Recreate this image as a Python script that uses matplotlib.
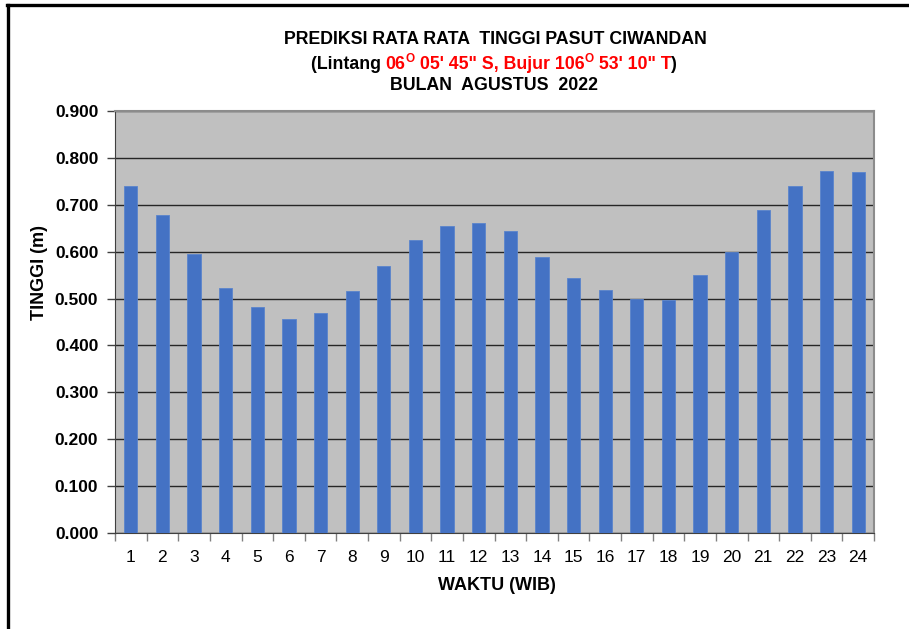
import matplotlib
matplotlib.use("Agg")
import matplotlib.pyplot as plt
from matplotlib.lines import Line2D

hours = list(range(1, 25))
tinggi = [0.740, 0.678, 0.595, 0.522, 0.482, 0.456, 0.469, 0.516, 0.569, 0.625,
          0.655, 0.661, 0.644, 0.588, 0.544, 0.518, 0.499, 0.497, 0.550, 0.599,
          0.689, 0.740, 0.772, 0.770]
yticks = [0.0, 0.1, 0.2, 0.3, 0.4, 0.5, 0.6, 0.7, 0.8, 0.9]

W, H = 909, 629
fig = plt.figure(figsize=(W / 100, H / 100), dpi=100)
fam = ["Liberation Sans", "DejaVu Sans"]

ax = fig.add_axes([115 / W, 1 - 533 / H, (874 - 115) / W, (533 - 111) / H])
ax.set_facecolor("#C0C0C0")
ax.bar(hours, tinggi, width=0.42, color="#4472C4", edgecolor="#5A84CC", linewidth=0.6, zorder=3)
ax.set_xlim(0.5, 24.5)
ax.set_ylim(0, 0.9)
ax.set_yticks(yticks)
ax.set_yticklabels([f"{v:.3f}" for v in yticks], fontfamily=fam, fontweight="bold", fontsize=12.5)
ax.grid(axis="y", color="#262626", linewidth=1.0, zorder=1)
ax.set_axisbelow(True)

ax.set_xticks(hours)
ax.set_xticklabels([str(h) for h in hours], fontfamily=fam, fontsize=12.5)
ax.tick_params(axis="x", length=0, pad=12)
ax.set_xticks([h + 0.5 for h in [0] + hours], minor=True)
ax.tick_params(axis="x", which="minor", length=6, width=1, color="#808080", direction="out")
ax.tick_params(axis="y", length=6, width=1, color="#404040", direction="out", pad=6)

for s in ["top", "right"]:
    ax.spines[s].set_color("#8c8c8c")
    ax.spines[s].set_linewidth(1.5)
ax.spines["left"].set_color("#404040")
ax.spines["bottom"].set_color("#404040")

fig.text(40 / W, 1 - 272 / H, "TINGGI (m)", rotation=90, ha="center", va="center",
         fontfamily=fam, fontweight="bold", fontsize=13)
fig.text(497 / W, 1 - 585 / H, "WAKTU (WIB)", ha="center", va="center",
         fontfamily=fam, fontweight="bold", fontsize=13)

fig.text(495 / W, 1 - 40 / H, "PREDIKSI RATA RATA  TINGGI PASUT CIWANDAN", ha="center", va="center",
         fontfamily=fam, fontweight="bold", fontsize=12.8)
fig.text(494 / W, 1 - 85 / H, "BULAN  AGUSTUS  2022", ha="center", va="center",
         fontfamily=fam, fontweight="bold", fontsize=12.8)

# Second title line with colored parts and superscripts
pieces = [("(Lintang ", "black", False), ("06", "red", False), ("O", "red", True),
          (" 05' 45\" S, Bujur 106", "red", False), ("O", "red", True),
          (" 53' 10\" T", "red", False), (")", "black", False)]
base_px = 69
arts = []
for txt, col, sup in pieces:
    a = fig.text(0, 0, txt, color=col, fontfamily=fam, fontweight="bold",
                 fontsize=8.5 if sup else 12.8, ha="left", va="baseline")
    arts.append((a, sup))
fig.canvas.draw()
r = fig.canvas.get_renderer()
widths = [a.get_window_extent(r).width for a, _ in arts]
total = sum(widths)
x = 494 - total / 2
for (a, sup), w in zip(arts, widths):
    yb = base_px - (7 if sup else 0)
    a.set_position((x / W, 1 - yb / H))
    x += w

# Border lines
fig.add_artist(Line2D([7 / W, 1.0], [1 - 5 / H, 1 - 5 / H], color="black", linewidth=2.4, transform=fig.transFigure))
fig.add_artist(Line2D([8 / W, 8 / W], [1 - 5 / H, 0], color="black", linewidth=2.4, transform=fig.transFigure))

fig.savefig("out.png", dpi=100)
